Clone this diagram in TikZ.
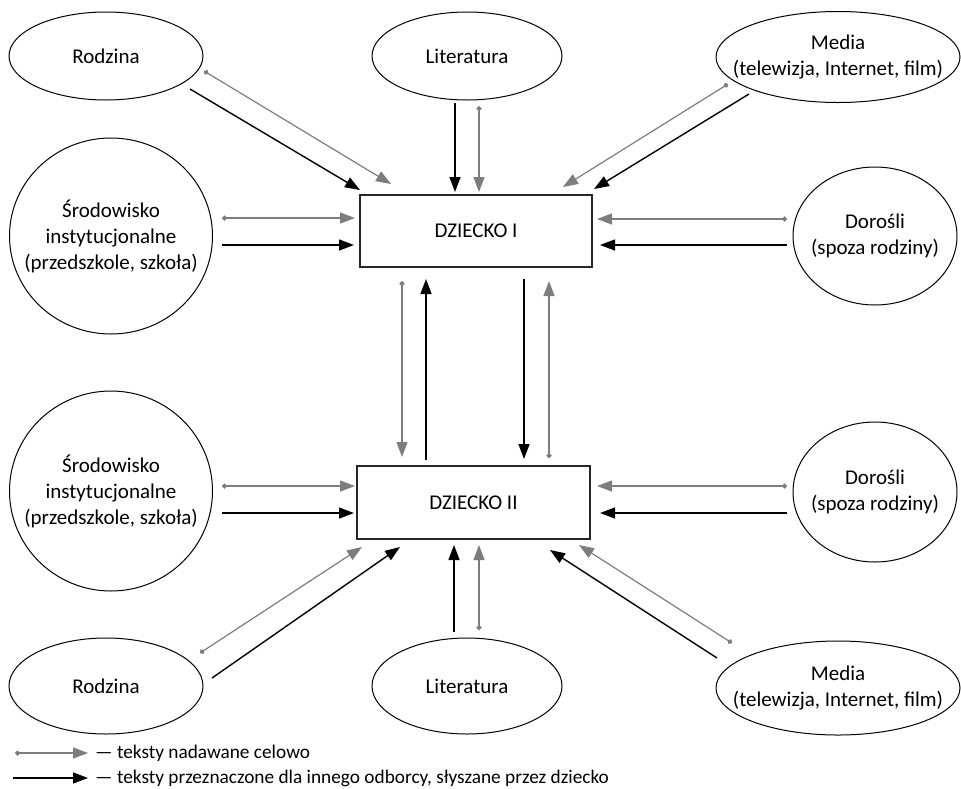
\documentclass[tikz,border=0pt]{standalone}
\usepackage{fontspec}
\setmainfont{Carlito}
\usetikzlibrary{shapes.geometric,arrows.meta,calc}
\definecolor{arrgray}{RGB}{125,125,125}
\begin{document}
\begin{tikzpicture}[x=1pt,y=-1pt,
  txt/.style={font=\fontsize{21}{26}\selectfont},
  legtxt/.style={font=\fontsize{19.3}{24}\selectfont},
  ell/.style={draw, ellipse, line width=1pt, inner sep=-45pt, align=center, txt},
  kid/.style={draw=black!85, rectangle, line width=1.3pt, inner sep=0pt, txt},
  blk/.style={line width=1.4pt, draw=black, -{Triangle[length=15pt,width=11pt]}},
  gry/.style={line width=1.2pt, draw=arrgray, {Circle[length=5pt]}-{Triangle[length=15pt,width=11pt]}},
]
\useasboundingbox (0,0) rectangle (961,788);

% top row
\node[ell, minimum width=194pt, minimum height=88pt] (rodT) at (106,56) {Rodzina};
\node[ell, minimum width=190pt, minimum height=88pt] (litT) at (467,56) {Literatura};
\node[ell, minimum width=244pt, minimum height=91pt] (medT) at (838,57) {Media\\(telewizja, Internet, film)};
% middle top
\node[ell, minimum width=203pt, minimum height=196pt] (sroT) at (111,236) {Środowisko\\instytucjonalne\\(przedszkole, szkoła)};
\node[kid, minimum width=232pt, minimum height=72pt] (d1) at (476,231) {DZIECKO I};
\node[ell, minimum width=164pt, minimum height=138pt] (dorT) at (875,236) {Dorośli\\(spoza rodziny)};
% middle bottom
\node[ell, minimum width=203pt, minimum height=200pt] (sroB) at (111,491) {Środowisko\\instytucjonalne\\(przedszkole, szkoła)};
\node[kid, minimum width=233pt, minimum height=73pt] (d2) at (473.5,502.5) {DZIECKO II};
\node[ell, minimum width=164pt, minimum height=140pt] (dorB) at (875,492) {Dorośli\\(spoza rodziny)};
% bottom row
\node[ell, minimum width=194pt, minimum height=96pt] (rodB) at (106,686) {Rodzina};
\node[ell, minimum width=190pt, minimum height=96pt] (litB) at (467,686) {Literatura};
\node[ell, minimum width=244pt, minimum height=94pt] (medB) at (838,688) {Media\\(telewizja, Internet, film)};

% arrows into DZIECKO I
\draw[gry] ($(rodT)+(98,15)$) -- ($(d1)+(-85,-47)$);
\draw[blk] ($(rodT)+(84,33)$) -- ($(d1)+(-116,-41)$);
\draw[blk] ($(litT)+(-12,47)$) -- ($(d1)+(-21,-39)$);
\draw[gry] ($(litT)+(12,50)$) -- ($(d1)+(3,-39)$);
\draw[gry] ($(medT)+(-110,27)$) -- ($(d1)+(87,-44)$);
\draw[blk] ($(medT)+(-89,37)$) -- ($(d1)+(118,-42)$);
\draw[gry] ($(sroT)+(111,-18)$) -- ($(d1)+(-121,-13)$);
\draw[blk] ($(sroT)+(111,9)$) -- ($(d1)+(-122,14)$);
\draw[gry] ($(dorT)+(-88,-17)$) -- ($(d1)+(121,-12)$);
\draw[blk] ($(dorT)+(-88,9)$) -- ($(d1)+(124,14)$);

% between the children
\draw[gry] ($(d1)+(-74,50)$) -- ($(d2)+(-71.5,-45.5)$);
\draw[blk] ($(d2)+(-47.5,-42.5)$) -- ($(d1)+(-50,48)$);
\draw[blk] ($(d1)+(48,48)$) -- ($(d2)+(50.5,-43.5)$);
\draw[gry] ($(d2)+(75.5,-44.5)$) -- ($(d1)+(73,50)$);

% arrows into DZIECKO II
\draw[gry] ($(sroB)+(111,-5)$) -- ($(d2)+(-118.5,-16.5)$);
\draw[blk] ($(sroB)+(111,22)$) -- ($(d2)+(-119.5,10.5)$);
\draw[gry] ($(dorB)+(-88,-6)$) -- ($(d2)+(123.5,-16.5)$);
\draw[blk] ($(dorB)+(-88,21)$) -- ($(d2)+(126.5,10.5)$);
\draw[gry] ($(rodB)+(94,-33)$) -- ($(d2)+(-111.5,44.5)$);
\draw[blk] ($(rodB)+(106,-8)$) -- ($(d2)+(-73.5,44.5)$);
\draw[blk] ($(litB)+(-13,-54)$) -- ($(d2)+(-19.5,42.5)$);
\draw[gry] ($(litB)+(12,-56)$) -- ($(d2)+(5.5,42.5)$);
\draw[gry] ($(medB)+(-106,-45)$) -- ($(d2)+(105.5,42.5)$);
\draw[blk] ($(medB)+(-121,-30)$) -- ($(d2)+(76.5,47.5)$);

% legend
\node[legtxt, anchor=west, inner sep=0pt] (leg1) at (95,753) {— teksty nadawane celowo};
\node[legtxt, anchor=west, inner sep=0pt] (leg2) at (95,778) {— teksty przeznaczone dla innego odborcy, słyszane przez dziecko};
\coordinate (leg1s) at (15,753);
\coordinate (leg2s) at (13,778);
\draw[gry] (leg1s) -- ($(leg1.west)+(-7,0)$);
\draw[blk] (leg2s) -- ($(leg2.west)+(-7,0)$);
\end{tikzpicture}
\end{document}
